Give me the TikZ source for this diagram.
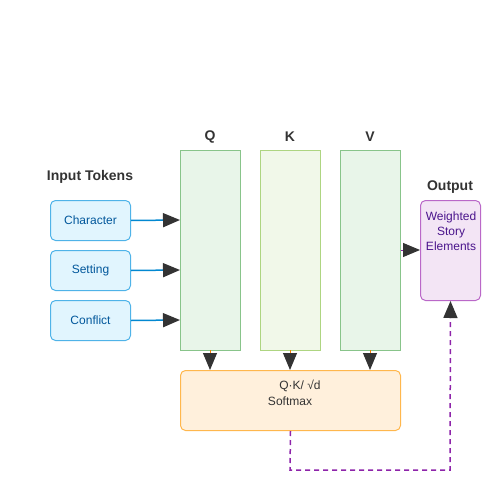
\documentclass[tikz,border=0pt]{standalone}
\usepackage{fontspec}
\setmainfont{Liberation Sans}
\usetikzlibrary{arrows.meta}
\definecolor{inFill}{HTML}{E1F5FE}
\definecolor{inDraw}{HTML}{4FB3E8}
\definecolor{inText}{HTML}{01579B}
\definecolor{inLine}{HTML}{0288D1}
\definecolor{qFill}{HTML}{E8F5E9}
\definecolor{qDraw}{HTML}{88C48A}
\definecolor{kFill}{HTML}{F1F8E9}
\definecolor{kDraw}{HTML}{AED581}
\definecolor{oFill}{HTML}{F3E5F5}
\definecolor{oDraw}{HTML}{BA68C8}
\definecolor{oText}{HTML}{4A148C}
\definecolor{sFill}{HTML}{FFF0DC}
\definecolor{sDraw}{HTML}{FFB74D}
\definecolor{sLine}{HTML}{F57C00}
\definecolor{dash}{HTML}{8E24AA}
\definecolor{dark}{HTML}{333333}
\tikzset{
  box/.style={draw, line width=1pt, inner sep=0pt, anchor=north west},
  inbox/.style={box, fill=inFill, draw=inDraw, rounded corners=5pt, minimum width=80pt, minimum height=40pt, text=inText, font=\fontsize{12}{14}\selectfont},
  col/.style={box, minimum width=60pt, minimum height=200pt},
  title/.style={font=\bfseries\fontsize{14}{16}\selectfont, text=dark},
  head/.style={-{Triangle[length=17pt,width=14pt,fill=dark,color=dark]}},
}
\begin{document}
\begin{tikzpicture}[x=1pt,y=-1pt]
\useasboundingbox (0,0) rectangle (500,500);
\node[title] (it) at (90,177) {Input Tokens};
\node[inbox] (ch) at (50,200) {Character};
\node[inbox] (se) at (50,250) {Setting};
\node[inbox] (co) at (50,300) {Conflict};
\node[col, fill=qFill, draw=qDraw] (q) at (180,150) {};
\node[col, fill=kFill, draw=kDraw] (k) at (260,150) {};
\node[col, fill=qFill, draw=qDraw] (v) at (340,150) {};
\node[title] (ql) at (210,137) {Q};
\node[title] (kl) at (290,137) {K};
\node[title] (vl) at (370,137) {V};
\node[title] (ol) at (450,187) {Output};
\node[box, fill=oFill, draw=oDraw, rounded corners=5pt, minimum width=60pt, minimum height=100pt] (out) at (420,200) {};
\node[text=oText, font=\fontsize{12}{15}\selectfont, align=center, anchor=north, inner sep=0pt] (ot) at (451,212) {Weighted\\Story\\Elements};
\node[box, fill=sFill, draw=sDraw, rounded corners=5pt, minimum width=220pt, minimum height=60pt] (sm) at (180,370) {};
\node[text=dark, font=\fontsize{12}{14}\selectfont, inner sep=0pt] (f1) at (300,386) {Q·K/ √d};
\node[text=dark, font=\fontsize{12}{14}\selectfont, inner sep=0pt] (f2) at (290,401) {Softmax};
\coordinate (c1) at (290,470);
\coordinate (c2) at (450,470);
\foreach \a/\y in {ch/220,se/270,co/320}{
  \draw[line width=1.5pt, draw=inLine, head] (\a.east) -- (180,\y);
}
\foreach \x in {210,290,370}{
  \draw[line width=1pt, draw=sLine, head] (\x,350) -- (\x,370);
}
\draw[line width=1pt, draw=dash, head] (v.east |- 0,250) -- (420,250);
\draw[line width=1.5pt, draw=dash, dash pattern=on 5pt off 4pt, head] (sm.south) -- (c1) -- (c2) -- (out.south);
\end{tikzpicture}
\end{document}
